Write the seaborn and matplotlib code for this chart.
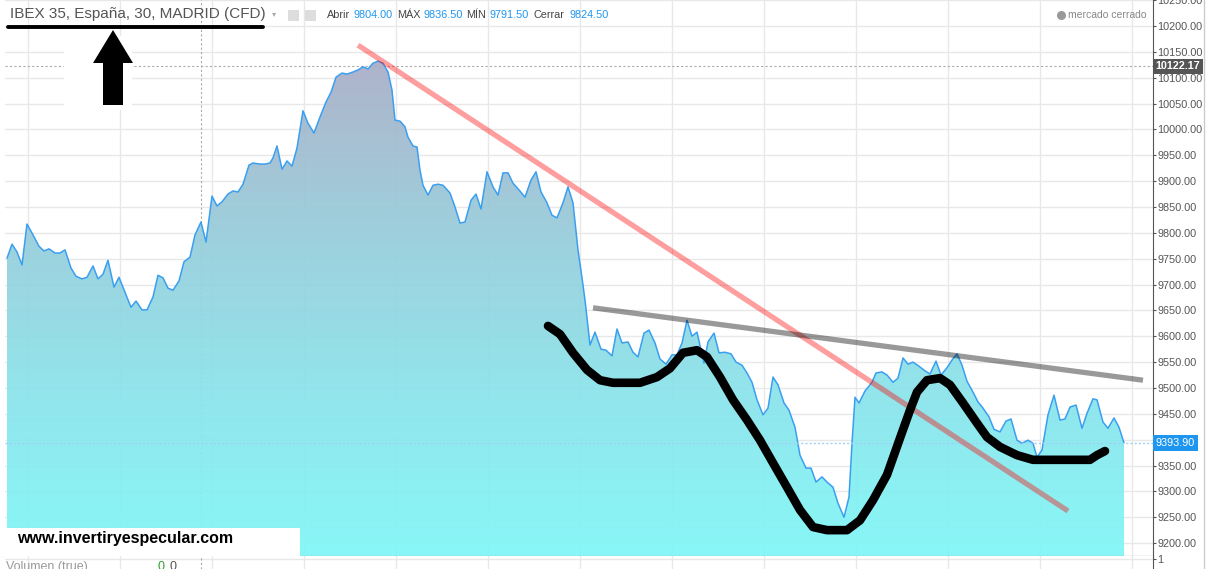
import numpy as np
import matplotlib
matplotlib.use("Agg")
import matplotlib.pyplot as plt
import seaborn as sns
from matplotlib.colors import LinearSegmentedColormap
from matplotlib.patches import Rectangle, Polygon
from matplotlib.lines import Line2D

# time position (chart units) and close price of the IBEX 35 CFD
t = [7, 12, 17, 22, 27, 33, 39, 44, 49, 55, 60, 65, 71, 76, 82, 87, 93, 98, 103, 108,
     114, 119, 125, 131, 136, 142, 147, 153, 158, 163, 168, 173, 179, 184, 190, 195, 201, 206, 212, 217,
     222, 228, 233, 238, 243, 249, 253, 260, 265, 270, 273, 277, 282, 287, 292, 297, 303, 308, 314, 320,
     326, 331, 336, 342, 347, 353, 358, 363, 368, 373, 378, 383, 388, 392, 395, 400, 405, 408, 413, 417,
     420, 423, 428, 433, 438, 443, 450, 455, 460, 465, 471, 476, 481, 487, 493, 498, 503, 508, 513, 519,
     525, 531, 536, 541, 547, 552, 557, 563, 568, 573, 578, 582, 585, 590, 595, 601, 606, 612, 617, 622,
     628, 633, 638, 644, 649, 655, 660, 666, 672, 677, 682, 687, 692, 697, 704, 708, 714, 719, 725, 731,
     736, 742, 747, 752, 757, 763, 768, 773, 778, 784, 789, 795, 800, 806, 811, 816, 822, 827, 833, 838,
     844, 849, 852, 855, 859, 865, 872, 876, 882, 887, 893, 898, 903, 908, 913, 919, 925, 930, 936, 941,
     947, 952, 957, 962, 967, 973, 978, 983, 989, 994, 1000, 1006, 1011, 1017, 1022, 1028, 1033, 1037, 1042, 1048,
     1054, 1060, 1065, 1070, 1076, 1082, 1087, 1093, 1097, 1103, 1108, 1114, 1119, 1124]
price = [9751, 9778, 9763, 9738, 9817, 9796, 9774, 9765, 9769, 9761, 9761, 9767, 9732, 9716, 9711, 9714, 9736, 9711, 9720, 9747,
         9695, 9714, 9685, 9656, 9668, 9651, 9651, 9676, 9718, 9713, 9693, 9689, 9707, 9744, 9753, 9796, 9821, 9782, 9871, 9852,
         9860, 9875, 9881, 9879, 9894, 9931, 9935, 9933, 9933, 9935, 9945, 9968, 9923, 9939, 9929, 9964, 10036, 10012, 9993, 10024,
         10053, 10072, 10101, 10109, 10107, 10111, 10115, 10121, 10117, 10128, 10132, 10128, 10111, 10076, 10018, 10016, 10005, 9985, 9968, 9966,
         9921, 9892, 9873, 9892, 9894, 9892, 9877, 9850, 9819, 9821, 9863, 9875, 9846, 9918, 9889, 9873, 9916, 9916, 9896, 9883,
         9869, 9902, 9918, 9879, 9858, 9834, 9829, 9858, 9889, 9858, 9767, 9713, 9670, 9583, 9608, 9575, 9573, 9562, 9614, 9587,
         9589, 9569, 9560, 9606, 9612, 9587, 9556, 9546, 9564, 9564, 9587, 9631, 9600, 9608, 9548, 9589, 9606, 9568, 9569, 9566,
         9550, 9544, 9529, 9511, 9477, 9448, 9461, 9521, 9506, 9471, 9457, 9424, 9370, 9345, 9345, 9318, 9328, 9318, 9308, 9277,
         9250, 9289, 9393, 9482, 9471, 9494, 9511, 9529, 9531, 9525, 9511, 9519, 9558, 9546, 9550, 9542, 9533, 9527, 9552, 9525,
         9539, 9554, 9566, 9544, 9513, 9492, 9473, 9461, 9444, 9420, 9415, 9436, 9440, 9399, 9393, 9399, 9393, 9366, 9380, 9448,
         9486, 9438, 9440, 9463, 9467, 9422, 9451, 9479, 9477, 9434, 9422, 9442, 9424, 9393.9]

# hand drawn annotations
red_t = [358, 1068]
red_p = [10163, 9262]
gray_t = [593, 1143]
gray_p = [9655, 9515]
curve_t = [548, 560, 573, 587, 600, 613, 640, 657, 670, 683, 697, 707, 720, 733, 747, 760, 773, 787, 800, 813,
           827, 847, 860, 873, 887, 900, 910, 917, 927, 940, 950, 963, 977, 987, 1000, 1017, 1033, 1090, 1097, 1105]
curve_p = [9620, 9604, 9568, 9535, 9515, 9510, 9510, 9521, 9538, 9568, 9573, 9560, 9521, 9477, 9438, 9399, 9355, 9308, 9264, 9231,
           9225, 9225, 9244, 9283, 9332, 9403, 9457, 9492, 9515, 9519, 9506, 9471, 9432, 9405, 9386, 9370, 9361, 9361, 9370, 9378]

high_mark = 10122.17
last_price = 9393.90
title = "IBEX 35, España, 30, MADRID (CFD)"
ohlc_labels = ["Abrir", "MÁX", "MÍN", "Cerrar"]
ohlc_values = ["9804.00", "9836.50", "9791.50", "9824.50"]
y_ticks = np.arange(9200, 10251, 50)

sns.set_style("white")
plt.rcParams['font.family'] = ['Liberation Sans', 'DejaVu Sans']

W, H = 1208, 569
fig = plt.figure(figsize=(W / 100, H / 100), dpi=100)


def fx(px):
    return px / W


def fy(py):
    return 1 - py / H


ax = fig.add_axes([fx(5), fy(556), (1153 - 5) / W, 556 / H])
axv = fig.add_axes([fx(5), 0, (1153 - 5) / W, 13 / H])

ylo, yhi = 9175, 10250.3
xlo, xhi = 5, 1153
grid_x = 28 + 92 * np.arange(13)

for a in (ax, axv):
    a.set_xlim(xlo, xhi)
    a.set_xticks(grid_x)
    a.set_xticklabels([])
    a.tick_params(axis='x', length=0)
    a.grid(True, color='#e8e8e8', lw=1)
    a.set_axisbelow(True)
    a.yaxis.tick_right()
    for s in ('top', 'left'):
        a.spines[s].set_visible(False)
    a.spines['right'].set_color('#555555')
    a.axvline(201, color='#aaaaaa', lw=0.8, ls=(0, (2, 2)), zorder=1)

ax.set_ylim(ylo, yhi)
ax.set_yticks(y_ticks)
ax.set_yticklabels([f"{v:.2f}" for v in y_ticks])
ax.tick_params(axis='y', length=2.5, color='#555555', labelcolor='#555555', labelsize=7.8, pad=0.8)
ax.spines['bottom'].set_color('#555555')

# gradient area
cmap = LinearSegmentedColormap.from_list('area', ['#a9adc6', '#98cbda', '#8ae3ea', '#7ff7f7'])
grad = np.linspace(0, 1, 256).reshape(-1, 1)
im = ax.imshow(grad, extent=[xlo, xhi, ylo, 10140], aspect='auto', cmap=cmap, alpha=0.93, zorder=2)
poly = ax.fill_between(t, price, ylo, color='none', lw=0)
im.set_clip_path(poly.get_paths()[0], transform=ax.transData)
sns.lineplot(x=t, y=price, ax=ax, color='#3a9ff0', lw=1.1, zorder=3)

ax.axhline(high_mark, color='#aaaaaa', lw=0.8, ls=(0, (2, 2)), zorder=1)
ax.axhline(last_price, color='#9fd0f5', lw=1, ls=(0, (1.5, 1.5)), zorder=3)

# trend lines and hand drawing
ax.plot(red_t, red_p, color='red', alpha=0.38, lw=3.8, solid_capstyle='butt', zorder=4)
ax.plot(gray_t, gray_p, color='black', alpha=0.4, lw=3.8, solid_capstyle='butt', zorder=4)
ax.plot(curve_t, curve_p, color='black', lw=6.2, solid_capstyle='round', solid_joinstyle='round', zorder=5)

# price labels on the axis
ax.annotate(f"{high_mark:.2f}", xy=(1.0, high_mark), xycoords=('axes fraction', 'data'),
            xytext=(2, 0), textcoords='offset points', va='center', ha='left', fontsize=7.8,
            color='white', fontweight='bold', zorder=10,
            bbox=dict(boxstyle='square,pad=0.25', fc='#555555', ec='none'), annotation_clip=False)
ax.annotate(f"{last_price:.2f}", xy=(1.0, last_price), xycoords=('axes fraction', 'data'),
            xytext=(2, 0), textcoords='offset points', va='center', ha='left', fontsize=7.8,
            color='white', zorder=10, bbox=dict(boxstyle='square,pad=0.25', fc='#1e96f0', ec='none'),
            annotation_clip=False)

# volume pane stub
axv.set_ylim(0, 1)
axv.set_yticks([0.75])
axv.set_yticklabels(['1'])
axv.tick_params(axis='y', length=2.5, color='#555555', labelcolor='#555555', labelsize=7.8, pad=0.8)
axv.spines['bottom'].set_visible(False)
fig.text(fx(6), fy(561), "Volumen (true)", fontsize=9, color='#999999', va='top')
fig.text(fx(158), fy(561), "0", fontsize=9, color='#2ca02c', va='top')
fig.text(fx(170), fy(561), "0", fontsize=9, color='#555555', va='top')
fig.add_artist(Line2D([fx(1204), fx(1204)], [0, 1], color='#cccccc', lw=1))

# header
fig.text(fx(10), fy(14), title, fontsize=11, color='#555555', va='center')
fig.text(fx(272), fy(14), "▾", fontsize=6, color='#aaaaaa', va='center', family=['DejaVu Sans'])
for x0 in (288, 305):
    fig.add_artist(Rectangle((fx(x0), fy(21)), 11 / W, 11 / H, fc='#dddddd', ec='none'))
ohlc_x = [(327, 353), (397, 423), (466, 490), (533, 569)]
for (lx, vx), lab, val in zip(ohlc_x, ohlc_labels, ohlc_values):
    fig.text(fx(lx), fy(15), lab, fontsize=7.8, color='#444444', va='center')
    fig.text(fx(vx), fy(15), val, fontsize=7.8, color='#1e96f0', va='center')
fig.add_artist(Line2D([fx(1061)], [fy(15)], marker='o', ms=5.5, color='#999999', lw=0))
fig.text(fx(1068), fy(15), "mercado cerrado", fontsize=7.5, color='#888888', va='center')

# underline and arrow drawn on the chart
fig.add_artist(Line2D([fx(8), fx(263)], [fy(27), fy(27)], color='black', lw=2.8))
fig.add_artist(Rectangle((fx(64), fy(110)), 68 / W, 74 / H, fc='white', ec='none', zorder=5))
arrow = [(113, 30), (133, 63), (123, 63), (123, 105), (103, 105), (103, 63), (93, 63)]
fig.add_artist(Polygon([(fx(a), fy(b)) for a, b in arrow], closed=True, fc='black', ec='none', zorder=6))

# watermark box
fig.add_artist(Rectangle((0, fy(556)), 300 / W, 28 / H, fc='white', ec='none', zorder=5))
fig.text(fx(17), fy(539), "www.invertiryespecular.com", fontsize=11.5, fontweight='bold',
         color='black', va='center', zorder=6)

fig.savefig("out.png", dpi=100)
